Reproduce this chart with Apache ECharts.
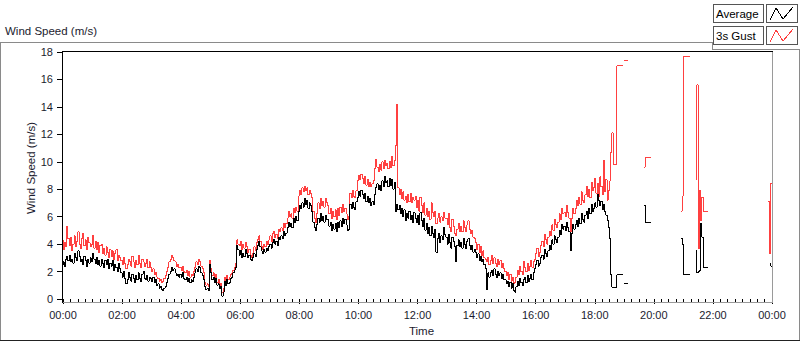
<!DOCTYPE html>
<html>
<head>
<meta charset="utf-8">
<script src="https://cdn.jsdelivr.net/npm/echarts@6.0.0/dist/echarts.min.js"></script>
<style>
  html, body { margin: 0; padding: 0; background: #fff; }
  #chart { width: 800px; height: 342px; }
  /* LabVIEW draws its traces without anti-aliasing */
  #chart svg path { shape-rendering: crispEdges; }
</style>
</head>
<body>
<div id="chart"></div>
<script>
// samples every 2.5 minutes from 00:00 to 24:00, one row per hour (null = no data)
var avgSpeed = [
  2.5, 2.7, 2.4, 2.9, 3.1, 2.8, 3.2, 2.7, 2.9, 2.6, 3.3, 3.0, 2.8, 3.5, 3.1, 2.7, 2.9, 2.5, 3.1, 2.8, 2.4, 2.9, 2.6, 3.0,
  2.7, 3.3, 2.9, 2.6, 3.0, 2.5, 2.8, 2.4, 2.9, 2.6, 2.3, 2.8, 2.5, 2.9, 2.2, 2.6, 2.4, 2.8, 2.1, 2.5, 2.3, 2.0, 2.6, 2.2,
  1.9, 1.6, 2.0, 1.5, 1.1, 1.4, 1.9, 1.6, 1.3, 1.8, 1.5, 1.2, 1.7, 1.4, 1.9, 1.5, 1.3, 1.8, 2.0, 1.5, 1.4, 1.7, 1.3, 1.6,
  1.5, 1.3, 1.6, 1.2, 1.4, 1.0, 1.1, 0.8, 0.9, 0.7, 0.6, 0.8, 0.9, 1.2, 1.5, 1.8, 2.0, 2.3, 2.1, 2.2, 1.9, 1.7, 1.8, 1.6,
  1.8, 1.6, 1.9, 1.5, 1.4, 1.6, 1.3, 1.5, 1.2, 1.4, 1.3, 1.6, 1.9, 2.2, 2.0, 2.4, 2.3, 1.9, 1.7, 1.4, 0.9, 0.7, 0.8, 0.6,
  2.5, 1.9, 1.4, 1.6, 1.2, 1.5, 1.0, 1.1, 0.8, 0.9, 0.2, 0.5, 1.3, 1.0, 1.4, 1.1, 1.2, 1.5, 1.6, 1.9, 2.1, 2.3, 3.9, 3.6,
  3.2, 3.5, 3.0, 3.3, 3.1, 3.6, 3.3, 3.0, 3.2, 2.9, 2.8, 3.0, 3.3, 3.1, 3.6, 3.9, 4.2, 3.8, 3.5, 3.3, 3.6, 3.4, 3.7, 3.5,
  3.8, 4.0, 3.7, 4.1, 4.3, 4.0, 4.2, 3.9, 4.5, 4.3, 4.6, 4.4, 4.9, 4.6, 4.8, 5.2, 5.6, 5.3, 5.5, 5.2, 5.9, 5.6, 6.0, 5.7,
  6.4, 6.8, 6.6, 7.0, 6.7, 7.3, 6.9, 7.2, 6.6, 7.0, 6.8, 6.4, 5.6, 5.2, 5.0, 5.4, 5.9, 5.6, 6.2, 5.7, 6.0, 5.6, 6.1, 5.8,
  5.8, 5.3, 5.6, 5.0, 5.4, 5.1, 5.5, 4.9, 5.6, 5.2, 5.7, 5.3, 5.9, 5.5, 5.8, 5.4, 5.0, 5.1, 6.9, 6.6, 7.0, 6.7, 6.5, 7.1,
  7.4, 7.8, 7.5, 7.9, 7.6, 7.3, 7.7, 7.1, 7.5, 7.0, 7.3, 6.8, 7.1, 6.9, 7.6, 8.1, 8.4, 8.0, 8.3, 7.9, 8.6, 8.2, 8.9, 8.5,
  8.6, 8.2, 8.8, 8.3, 8.7, 8.0, 8.5, 6.4, 6.9, 6.5, 6.8, 6.2, 6.6, 6.0, 6.5, 5.7, 6.2, 5.9, 6.4, 5.8, 6.1, 5.6, 6.3, 5.9,
  5.6, 6.1, 5.4, 6.3, 5.7, 5.3, 5.9, 5.0, 5.5, 4.8, 5.2, 4.6, 5.3, 4.8, 4.5, 5.1, 3.4, 4.4, 4.8, 4.1, 4.6, 4.3, 5.2, 4.7,
  4.5, 4.0, 4.7, 4.1, 3.7, 4.5, 4.2, 3.8, 2.7, 3.9, 4.3, 3.8, 4.1, 3.7, 4.4, 4.0, 3.7, 4.2, 4.4, 3.9, 3.6, 3.9, 3.4, 3.6,
  3.4, 3.0, 3.3, 2.8, 3.1, 2.7, 2.9, 2.5, 2.2, 0.7, 1.9, 1.6, 1.9, 2.1, 1.7, 2.2, 1.8, 1.6, 2.0, 1.7, 1.9, 1.5, 1.8, 1.4,
  1.4, 1.1, 1.3, 0.9, 1.2, 0.8, 1.1, 0.6, 0.5, 0.9, 1.3, 1.0, 1.5, 1.2, 1.0, 1.4, 1.6, 1.2, 1.7, 1.3, 1.5, 1.8, 1.4, 1.9,
  2.2, 2.5, 2.8, 2.4, 2.6, 3.0, 3.2, 2.9, 3.6, 3.3, 3.1, 3.5, 3.9, 3.6, 4.3, 4.0, 4.6, 4.3, 4.1, 4.5, 5.0, 4.7, 5.4, 5.1,
  5.3, 5.0, 5.6, 5.2, 4.9, 3.5, 4.8, 5.4, 5.1, 5.4, 5.7, 5.3, 5.9, 5.5, 6.2, 5.8, 5.6, 6.1, 6.4, 5.9, 6.6, 6.2, 6.9, 6.4,
  6.6, 7.0, 6.7, 7.6, 7.2, 6.8, 7.1, 6.5, 6.9, 6.4, 6.1, 5.7, 5.2, 4.4, 1.8, 0.85, 0.85, 0.85, 0.85, 1.75, 1.75, 1.75, 1.75, 1.75,
  null, 1.1, 1.1, 1.1, null, null, null, null, null, null, null, null, null, null, null, null, null, 6.8, 5.6, 5.6, 5.6, 5.6, 5.6, null,
  null, null, null, null, null, null, null, null, null, null, null, null, null, null, null, null, null, null, null, null, null, null, null, 4.4,
  4.0, 1.8, 1.8, 1.8, 1.8, 1.8, null, null, null, null, null, 3.5, 1.9, 2.0, 2.1, 5.5, 4.5, 2.3, 2.3, 2.3, 2.3, null, null, null,
  null, null, null, null, null, null, null, null, null, null, null, null, null, null, null, null, null, null, null, null, null, null, null, null,
  null, null, null, null, null, null, null, null, null, null, null, null, null, null, null, null, null, null, null, null, null, null, null, 2.6,
  2.4
];

var gustSpeed = [
  4.3, 3.6, 4.1, 3.8, 5.3, 4.4, 3.9, 4.5, 3.5, 4.0, 4.6, 3.8, 4.2, 4.9, 4.0, 3.7, 4.4, 4.8, 3.9, 4.3, 3.6, 4.5, 4.1, 3.8,
  4.0, 4.6, 3.7, 4.2, 3.6, 4.1, 3.4, 3.9, 4.0, 3.3, 3.7, 3.2, 3.8, 3.4, 3.0, 3.6, 3.1, 3.5, 2.9, 3.3, 3.6, 2.8, 3.2, 3.0,
  2.8, 2.5, 3.0, 2.6, 2.2, 2.5, 2.9, 2.7, 2.4, 3.1, 2.7, 2.3, 2.8, 2.5, 3.2, 2.6, 2.3, 2.9, 2.7, 2.4, 2.6, 2.9, 2.3, 2.7,
  2.3, 2.0, 2.2, 1.8, 1.9, 1.6, 1.5, 1.3, 1.4, 1.2, 1.3, 1.5, 1.7, 2.0, 2.3, 2.7, 2.9, 3.2, 3.0, 2.8, 2.7, 2.4, 2.5, 2.3,
  2.3, 2.1, 2.4, 2.0, 1.9, 2.1, 1.7, 2.0, 1.6, 1.8, 1.7, 2.0, 2.3, 2.7, 2.5, 2.9, 2.7, 2.4, 2.2, 1.9, 1.2, 1.0, 1.1, 0.9,
  2.8, 2.2, 1.7, 1.9, 1.5, 1.8, 1.2, 1.4, 1.0, 1.1, 0.5, 0.8, 1.6, 1.3, 1.7, 1.4, 1.6, 1.8, 1.9, 2.1, 2.3, 2.6, 4.3, 4.0,
  3.9, 4.2, 3.6, 4.0, 3.7, 4.1, 3.8, 3.4, 3.6, 3.2, 3.0, 3.3, 3.8, 3.5, 4.1, 4.3, 4.6, 4.2, 3.8, 3.6, 4.0, 3.8, 4.2, 4.0,
  4.3, 4.6, 4.2, 4.8, 4.9, 4.5, 4.7, 4.4, 5.1, 4.9, 5.2, 5.0, 5.5, 5.2, 5.5, 5.9, 6.4, 6.0, 6.2, 5.9, 6.6, 6.3, 6.7, 6.4,
  7.5, 7.9, 7.6, 8.1, 7.8, 8.2, 7.9, 8.1, 7.6, 7.9, 7.7, 7.4, 6.4, 5.9, 5.6, 6.2, 7.0, 6.6, 7.3, 6.8, 7.1, 6.7, 7.3, 7.0,
  6.8, 6.2, 6.6, 5.9, 6.4, 6.0, 6.5, 5.8, 6.6, 6.1, 6.7, 6.3, 6.9, 6.4, 6.6, 6.2, 5.8, 6.0, 7.7, 7.4, 7.9, 7.5, 7.4, 7.9,
  8.6, 9.0, 8.7, 9.1, 8.8, 8.4, 8.9, 8.3, 8.7, 8.2, 8.5, 8.2, 8.4, 8.6, 9.5, 10.2, 9.6, 9.3, 9.8, 9.4, 10.0, 9.5, 10.1, 9.7,
  9.9, 9.5, 10.0, 9.6, 10.4, 9.7, 10.1, 11.2, 14.2, 8.1, 7.6, 8.0, 7.3, 7.8, 7.2, 7.5, 7.0, 7.6, 7.1, 7.7, 7.0, 7.4, 7.2, 7.5,
  6.7, 7.2, 6.4, 7.4, 6.8, 6.3, 7.0, 6.1, 6.6, 6.0, 6.4, 5.8, 7.0, 6.3, 6.0, 6.4, 5.5, 5.9, 6.2, 5.6, 6.0, 5.7, 6.3, 5.9,
  5.9, 5.4, 6.2, 5.2, 4.9, 5.8, 5.3, 4.8, 4.6, 5.1, 5.5, 4.9, 5.3, 4.9, 5.7, 5.2, 4.9, 5.4, 5.7, 5.1, 4.8, 5.0, 4.5, 4.4,
  4.1, 3.6, 4.0, 3.4, 3.8, 3.2, 3.5, 3.0, 2.9, 2.7, 3.0, 2.5, 2.8, 3.2, 2.6, 3.0, 2.6, 2.4, 2.9, 2.5, 2.8, 2.3, 2.6, 2.2,
  2.0, 1.7, 1.9, 1.4, 1.8, 1.3, 1.6, 1.1, 1.2, 1.6, 2.1, 1.8, 2.4, 2.0, 1.8, 2.7, 2.3, 2.0, 2.6, 2.1, 2.4, 2.8, 2.3, 2.7,
  2.9, 3.3, 3.7, 3.1, 3.4, 3.9, 4.2, 3.8, 4.7, 4.3, 4.0, 4.5, 4.9, 4.6, 5.4, 5.0, 5.8, 5.4, 5.2, 5.6, 6.2, 5.8, 6.6, 6.2,
  6.3, 6.0, 6.8, 6.3, 5.9, 4.9, 5.9, 6.6, 6.2, 6.6, 7.2, 6.8, 7.4, 6.9, 7.8, 7.2, 7.0, 7.6, 8.2, 7.5, 8.0, 7.4, 8.5, 7.9,
  8.1, 8.8, 7.7, 8.4, 7.5, 8.9, 8.2, 7.6, 10.1, 7.8, 8.7, 7.2, 7.9, 8.6, 10.7, 12.1, 9.8, 9.8, 9.8, 17.0, 17.0, 17.0, 17.0, 17.0,
  null, 17.4, 17.4, 17.4, null, null, null, null, null, null, null, null, null, null, null, null, null, 9.6, 10.3, 10.3, 10.3, 10.3, 10.3, null,
  null, null, null, null, null, null, null, null, null, null, null, null, null, null, null, null, null, null, null, null, null, null, null, 6.4,
  7.5, 17.7, 17.7, 17.7, 17.7, 17.7, null, null, null, null, null, 8.7, 15.6, 3.7, 7.9, 5.7, 7.4, 6.4, 6.4, 6.4, 6.4, null, null, null,
  null, null, null, null, null, null, null, null, null, null, null, null, null, null, null, null, null, null, null, null, null, null, null, null,
  null, null, null, null, null, null, null, null, null, null, null, null, null, null, null, null, null, null, null, null, null, null, 7.1, 3.3,
  8.4
];

var stepMinutes = 2.5;
var yTicks = { min: 0, max: 18, interval: 2 };
var xTicks = { min: 0, max: 1440, interval: 120 };

var FONT = '"Liberation Sans", Arial, sans-serif';
var TEXT = '#1b1b2e';

function toPairs(values) {
  return values.map(function (v, i) {
    return [i * stepMinutes, v == null ? '-' : v];
  });
}

function clockLabel(m) {
  var h = Math.floor(m / 60) % 24;
  return (h < 10 ? '0' : '') + h + ':00';
}

var myChart = echarts.init(document.getElementById('chart'), null, { renderer: 'svg' });

var option = {
  animation: false,
  backgroundColor: '#ffffff',
  grid: { left: 63, top: 52, width: 709, height: 250 },
  xAxis: {
    type: 'value',
    min: xTicks.min,
    max: xTicks.max,
    interval: xTicks.interval,
    offset: 3,
    axisLine: { show: false },
    axisTick: { show: true, length: 5, lineStyle: { color: '#000' } },
    minorTick: { show: true, splitNumber: 8, length: 3, lineStyle: { color: '#000' } },
    splitLine: { show: false },
    axisLabel: { formatter: clockLabel, margin: 7, color: TEXT, fontSize: 11, fontFamily: FONT },
    name: 'Time',
    nameLocation: 'middle',
    nameGap: 23,
    nameTextStyle: { color: TEXT, fontSize: 11.5, fontFamily: FONT, padding: [0, 0, 0, 8] }
  },
  yAxis: {
    type: 'value',
    min: yTicks.min,
    max: yTicks.max,
    interval: yTicks.interval,
    offset: 3,
    axisLine: { show: false },
    axisTick: { show: true, length: 6, lineStyle: { color: '#000' } },
    splitLine: { show: false },
    axisLabel: { margin: 7, color: TEXT, fontSize: 11, fontFamily: FONT }
  },
  series: [
    {
      name: '3s Gust',
      type: 'line',
      step: 'start',
      data: toPairs(gustSpeed),
      showSymbol: false,
      connectNulls: false,
      lineStyle: { color: '#ff4040', width: 1 },
      itemStyle: { color: '#ff4040' }
    },
    {
      name: 'Average',
      type: 'line',
      step: 'start',
      data: toPairs(avgSpeed),
      showSymbol: false,
      connectNulls: false,
      lineStyle: { color: '#000000', width: 1 },
      itemStyle: { color: '#000000' }
    }
  ],
  graphic: [
    // outer frame of the chart
    { type: 'polyline', silent: true,
      shape: { points: [[0.5, 341], [0.5, 42.5], [712.5, 42.5], [712.5, 49.5], [799.5, 49.5], [799.5, 341]] },
      style: { stroke: '#8a8a8a', fill: null, lineWidth: 1 } },
    { type: 'line', silent: true, shape: { x1: 0, y1: 340.5, x2: 800, y2: 340.5 }, style: { stroke: '#222', lineWidth: 1 } },
    // plot area border
    { type: 'polyline', silent: true, z: 10,
      shape: { points: [[62.5, 302.5], [62.5, 51.5], [772.5, 51.5]] },
      style: { stroke: '#000', fill: null, lineWidth: 1 } },
    { type: 'polyline', silent: true, z: 10,
      shape: { points: [[62.5, 302.5], [772.5, 302.5], [772.5, 51.5]] },
      style: { stroke: '#9a9a9a', fill: null, lineWidth: 1 } },
    // titles
    { type: 'text', silent: true, x: 5, y: 31,
      style: { text: 'Wind Speed (m/s)', font: '11.5px ' + FONT, fill: TEXT, verticalAlign: 'middle' } },
    { type: 'text', silent: true, x: 31, y: 168, rotation: Math.PI / 2,
      style: { text: 'Wind Speed (m/s)', font: '11.5px ' + FONT, fill: TEXT, align: 'center', verticalAlign: 'middle' } },
    // legend: Average
    { type: 'rect', silent: true, shape: { x: 713.5, y: 4.5, width: 50, height: 18 },
      style: { fill: '#fff', stroke: '#555', lineWidth: 1 } },
    { type: 'text', silent: true, x: 716, y: 14,
      style: { text: 'Average', font: '11.5px ' + FONT, fill: '#000', verticalAlign: 'middle' } },
    { type: 'rect', silent: true, shape: { x: 766.5, y: 4.5, width: 31, height: 18 },
      style: { fill: '#fff', stroke: '#555', lineWidth: 1 } },
    { type: 'polyline', silent: true, shape: { points: [[770, 20], [776, 8], [783, 19], [793, 7]] },
      style: { stroke: '#000', fill: null, lineWidth: 1 } },
    // legend: 3s Gust
    { type: 'rect', silent: true, shape: { x: 713.5, y: 26.5, width: 50, height: 18 },
      style: { fill: '#fff', stroke: '#555', lineWidth: 1 } },
    { type: 'text', silent: true, x: 716, y: 36,
      style: { text: '3s Gust', font: '11.5px ' + FONT, fill: '#000', verticalAlign: 'middle' } },
    { type: 'rect', silent: true, shape: { x: 766.5, y: 26.5, width: 31, height: 18 },
      style: { fill: '#fff', stroke: '#555', lineWidth: 1 } },
    { type: 'polyline', silent: true, shape: { points: [[770, 42], [776, 30], [783, 41], [793, 29]] },
      style: { stroke: '#ff4040', fill: null, lineWidth: 1 } }
  ]
};

myChart.setOption(option);
window.addEventListener('resize', myChart.resize);
</script>
</body>
</html>
